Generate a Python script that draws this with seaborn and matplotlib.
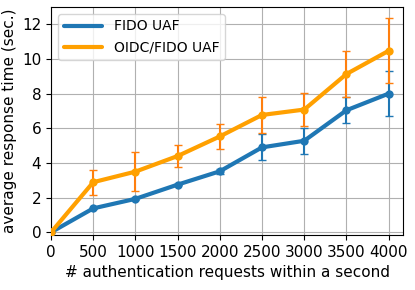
import pandas as pd
import matplotlib
matplotlib.use("Agg")
import matplotlib.pyplot as plt
from matplotlib.lines import Line2D
import seaborn as sns

# requests per second vs. average response time
requests = [0, 500, 1000, 1500, 2000, 2500, 3000, 3500, 4000]
fido_mean = [0, 1.38, 1.93, 2.75, 3.52, 4.90, 5.28, 7.04, 8.00]
fido_err = [0, 0.05, 0.05, 0.05, 0.15, 0.75, 0.76, 0.74, 1.31]
oidc_mean = [0, 2.89, 3.50, 4.40, 5.53, 6.77, 7.08, 9.13, 10.47]
oidc_err = [0, 0.71, 1.14, 0.61, 0.73, 1.05, 0.95, 1.33, 1.88]

colors = {"FIDO UAF": "#1f77b4", "OIDC/FIDO UAF": "#ffa000"}

df = pd.concat([
    pd.DataFrame({"x": requests, "y": fido_mean, "method": "FIDO UAF"}),
    pd.DataFrame({"x": requests, "y": oidc_mean, "method": "OIDC/FIDO UAF"}),
])

sns.set_style("ticks", {"axes.edgecolor": "black", "text.color": "black",
                        "xtick.color": "black", "ytick.color": "black",
                        "axes.labelcolor": "black"})
plt.rcParams['font.family'] = ['DejaVu Sans']

fig = plt.figure(figsize=(4.15, 2.9), dpi=100)
ax = fig.add_axes([0.123, 0.19, 0.848, 0.786])

ax.errorbar(requests, fido_mean, yerr=fido_err, fmt='none', ecolor='#1f77b4',
            capsize=3, elinewidth=1.5, zorder=2)
ax.errorbar(requests, oidc_mean, yerr=oidc_err, fmt='none', ecolor='#ff7f0e',
            capsize=3, elinewidth=1.5, zorder=2)

sns.lineplot(data=df, x="x", y="y", hue="method", palette=colors,
             marker="o", markersize=6, markeredgewidth=0, linewidth=3,
             ax=ax, zorder=3, legend=False)

ax.set_xticks(requests)
ax.set_yticks([0, 2, 4, 6, 8, 10, 12])
ax.set_xlim(0, 4170)
ax.set_ylim(-0.15, 13)
ax.grid(True, color='#b0b0b0', linewidth=0.8)
ax.tick_params(labelsize=11)
ax.set_xlabel("# authentication requests within a second", fontsize=11)
ax.set_ylabel("average response time (sec.)", fontsize=11)

handles = [Line2D([0], [0], color=c, linewidth=3) for c in colors.values()]
ax.legend(handles, list(colors.keys()), loc="upper left", fontsize=10,
          handlelength=2.8)

fig.savefig("out.png", dpi=100)
